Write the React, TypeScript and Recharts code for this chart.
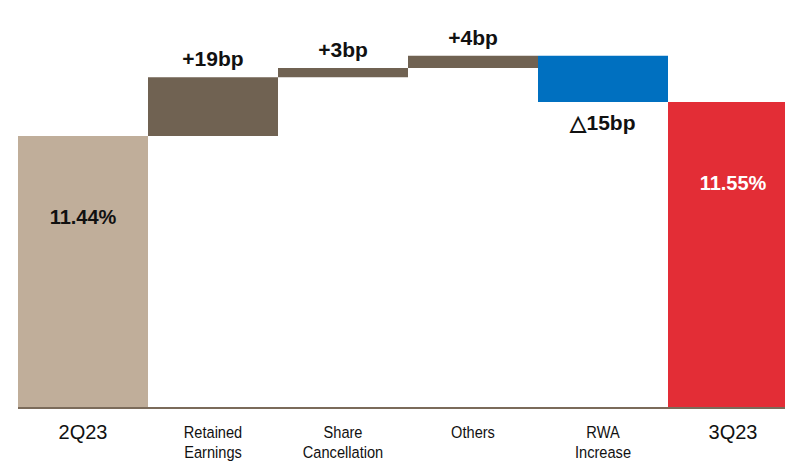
import { Bar, BarChart, Cell, LabelList, XAxis, YAxis } from "recharts";

const categories = ["2Q23", "Retained Earnings", "Share Cancellation", "Others", "RWA Increase", "3Q23"];
const openingRatio = 11.44;
const movementsBp = [19, 3, 4, -15];
const closingRatio = 11.55;

const colors = ["#c0ae9a", "#706252", "#706252", "#706252", "#0070c0", "#e32d36"];
const FONT = "'Liberation Sans', Arial, Helvetica, sans-serif";
const FLOOR = 10.56;

type Row = { name: string; range: [number, number]; label: string; kind: "total" | "up" | "down" };

function buildRows(): Row[] {
  const rows: Row[] = [
    { name: categories[0], range: [FLOOR, openingRatio], label: `${openingRatio.toFixed(2)}%`, kind: "total" },
  ];
  let level = openingRatio;
  movementsBp.forEach((bp, i) => {
    const next = level + bp / 100;
    rows.push({
      name: categories[i + 1],
      range: [Math.min(level, next), Math.max(level, next)],
      label: bp >= 0 ? `+${bp}bp` : `△${Math.abs(bp)}bp`,
      kind: bp >= 0 ? "up" : "down",
    });
    level = next;
  });
  rows.push({ name: categories[5], range: [FLOOR, closingRatio], label: `${closingRatio.toFixed(2)}%`, kind: "total" });
  return rows;
}

const rows = buildRows();

function CategoryTick({ x, y, payload }: any) {
  const name: string = payload.value;
  if (name === categories[0] || name === categories[5]) {
    return (
      <text x={x} y={y + 29} textAnchor="middle" fontFamily={FONT} fontSize={20} fill="#111">
        {name}
      </text>
    );
  }
  // movement labels use a condensed face, squeezed horizontally
  const lines = name.split(" ");
  return (
    <g transform={`translate(${x} ${y}) scale(0.86 1)`}>
      <text x={0} y={28} textAnchor="middle" fontFamily={FONT} fontSize={17} fill="#111">
        {lines.map((line, i) => (
          <tspan key={line} x={0} dy={i === 0 ? 0 : 20}>
            {line}
          </tspan>
        ))}
      </text>
    </g>
  );
}

function BarLabel({ x, y, width, height, index }: any) {
  const row = rows[index];
  const cx = x + width / 2;
  if (row.kind === "total") {
    const white = index === 5;
    return (
      <text x={cx} y={y + 88} textAnchor="middle" fontFamily={FONT} fontWeight="bold" fontSize={20} fill={white ? "#fff" : "#111"}>
        {row.label}
      </text>
    );
  }
  if (row.kind === "down") {
    return (
      <text x={cx} y={y + height + 28} textAnchor="middle" fontFamily={FONT} fontWeight="bold" fontSize={21} fill="#111">
        {row.label}
      </text>
    );
  }
  return (
    <text x={cx} y={y - 11} textAnchor="middle" fontFamily={FONT} fontWeight="bold" fontSize={21} fill="#111">
      {row.label}
    </text>
  );
}

export default function App() {
  return (
    <div style={{ position: "absolute", left: 0, top: 0, width: 785, height: 463, overflow: "hidden", background: "#fff" }}>
      <BarChart width={800} height={463} data={rows} margin={{ top: 0, right: 2, bottom: 0, left: 18 }} barCategoryGap={0}>
        <XAxis
          dataKey="name"
          interval={0}
          height={55}
          tickLine={false}
          tickSize={0}
          tick={<CategoryTick />}
          axisLine={{ stroke: "#7b6b5a", strokeWidth: 2 }}
        />
        <YAxis hide domain={[FLOOR, 11.88]} allowDataOverflow />
        <Bar dataKey="range" isAnimationActive={false}>
          {rows.map((row, i) => (
            <Cell key={row.name} fill={colors[i]} />
          ))}
          <LabelList dataKey="range" content={<BarLabel />} />
        </Bar>
      </BarChart>
    </div>
  );
}
